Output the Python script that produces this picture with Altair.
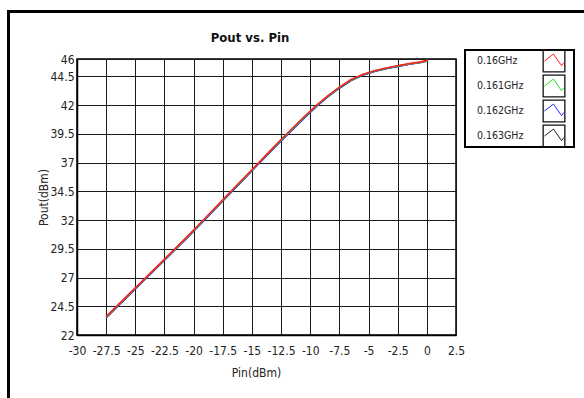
import altair as alt
import pandas as pd

FONT = "Liberation Sans Narrow, DejaVu Sans Condensed, sans-serif"

freqs = ["0.16GHz", "0.161GHz", "0.162GHz", "0.163GHz"]
colors = ["#ff2020", "#20e020", "#2a2aff", "#222222"]

pin = [-27.5, -26.5, -25.5, -24.5, -23.5, -22.5, -21.5, -20.5, -19.5, -18.5,
       -17.5, -16.5, -15.5, -14.5, -13.5, -12.5, -11.5, -10.5, -9.5, -8.5,
       -7.5, -6.5, -5.5, -4.5, -3.5, -2.5, -1.5, -0.5, 0.1]

pout_160 = [23.6, 24.6, 25.6, 26.6, 27.6, 28.6, 29.6, 30.6, 31.65, 32.7,
            33.75, 34.8, 35.85, 36.9, 37.95, 39.0, 40.0, 41.0, 41.95, 42.8,
            43.55, 44.22, 44.66, 44.98, 45.22, 45.42, 45.6, 45.75, 45.9]
pout_161 = [23.57, 24.57, 25.57, 26.57, 27.57, 28.57, 29.57, 30.57, 31.62, 32.67,
            33.72, 34.77, 35.82, 36.87, 37.92, 38.96, 39.96, 40.96, 41.91, 42.76,
            43.51, 44.18, 44.63, 44.95, 45.19, 45.39, 45.57, 45.72, 45.87]
pout_162 = [23.5, 24.5, 25.5, 26.5, 27.5, 28.5, 29.5, 30.5, 31.55, 32.6,
            33.65, 34.7, 35.75, 36.8, 37.85, 38.88, 39.88, 40.88, 41.84, 42.7,
            43.46, 44.13, 44.58, 44.91, 45.16, 45.36, 45.55, 45.7, 45.85]
pout_163 = [23.53, 24.53, 25.53, 26.53, 27.53, 28.53, 29.53, 30.53, 31.58, 32.63,
            33.68, 34.73, 35.78, 36.83, 37.88, 38.92, 39.92, 40.92, 41.88, 42.73,
            43.48, 44.15, 44.6, 44.93, 45.18, 45.38, 45.56, 45.71, 45.86]

x_ticks = [-30, -27.5, -25, -22.5, -20, -17.5, -15, -12.5, -10, -7.5, -5, -2.5, 0, 2.5]
y_ticks = [22, 24.5, 27, 29.5, 32, 34.5, 37, 39.5, 42, 44.5, 46]
chart_title = ["Pout vs. Pin"]

# drawing order: black first, red on top
series = [
    ("0.163GHz", pout_163),
    ("0.162GHz", pout_162),
    ("0.161GHz", pout_161),
    ("0.16GHz", pout_160),
]
rows = []
for k, (f, vals) in enumerate(series):
    for p, v in zip(pin, vals):
        rows.append({"freq": f, "k": k, "pin": p, "pout": v})
df = pd.DataFrame(rows)

W, H = 379, 276

xscale = alt.Scale(domain=[-30, 2.5], nice=False, zero=False)
yscale = alt.Scale(domain=[22, 46], nice=False, zero=False)

x_axis = alt.Axis(values=x_ticks, labelExpr="toString(datum.value)", title="Pin(dBm)",
                  grid=True, gridColor="#1a1a1a", gridWidth=1, gridOpacity=1,
                  ticks=False, labelPadding=10, labelFont=FONT, labelFontSize=12,
                  labelColor="#222", domainColor="#000", domainWidth=1.5,
                  titleFont=FONT, titleFontSize=12, titleFontWeight="normal",
                  titleColor="#222", titleX=179, titleY=37, titleBaseline="middle",
                  titleAlign="center", labelFlush=False, labelOverlap=False)
y_axis = alt.Axis(values=y_ticks, labelExpr="toString(datum.value)", title="Pout(dBm)",
                  grid=True, gridColor="#1a1a1a", gridWidth=1, gridOpacity=1,
                  ticks=False, labelPadding=3, labelFont=FONT, labelFontSize=12,
                  labelColor="#222", domainColor="#000", domainWidth=1.5,
                  titleFont=FONT, titleFontSize=12, titleFontWeight="normal",
                  titleColor="#222", titleX=-34, titleY=H / 2, titleAngle=270,
                  titleBaseline="middle", titleAlign="center", labelFlush=False,
                  labelOverlap=False)

lines = alt.Chart(df).mark_line(strokeWidth=1.6).encode(
    x=alt.X("pin:Q", scale=xscale, axis=x_axis),
    y=alt.Y("pout:Q", scale=yscale, axis=y_axis),
    color=alt.Color("freq:N", scale=alt.Scale(domain=freqs, range=colors), legend=None),
    detail="k:O",
)

# outer frame
frame_left = alt.Chart(df).mark_rule(color="#000", strokeWidth=3).encode(
    x=alt.value(-68.5), y=alt.value(-47.5), y2=alt.value(350))
frame_top = alt.Chart(df).mark_rule(color="#000", strokeWidth=3).encode(
    x=alt.value(-70), x2=alt.value(520), y=alt.value(-47.5))

# title
title_df = pd.DataFrame({"t": chart_title})
title_mark = alt.Chart(title_df).mark_text(
    font=FONT, fontSize=13, fontWeight="bold", color="#111",
    align="center", baseline="middle").encode(
    x=alt.value(173), y=alt.value(-21), text="t:N")

# legend
leg_df = pd.DataFrame({"freq": freqs, "row": [0, 1, 2, 3]})
leg_y = alt.Y("row:Q", scale=alt.Scale(domain=[0, 3], range=[2, 77]), axis=None)

leg_box = alt.Chart(leg_df).mark_rect(fill="white", stroke="#000", strokeWidth=2).encode(
    x=alt.value(388), x2=alt.value(497), y=alt.value(-9), y2=alt.value(88))
leg_text = alt.Chart(leg_df).mark_text(align="left", baseline="middle", font=FONT,
                                       fontSize=10.5, color="#222").encode(
    x=alt.value(400), y=leg_y, text="freq:N")
leg_sq = alt.Chart(leg_df).mark_point(shape="square", size=470, filled=False,
                                      stroke="#111", strokeWidth=1.3, opacity=1).encode(
    x=alt.value(477), y=leg_y)
leg_zz = alt.Chart(leg_df).mark_point(
    shape="M-0.88,0L-0.05,-0.64L0.7,0.43L0.92,0.13", size=470, filled=False,
    strokeWidth=1, opacity=1).encode(x=alt.value(477), y=leg_y, stroke=alt.Stroke(
        "freq:N", scale=alt.Scale(domain=freqs, range=colors), legend=None))

chart = alt.layer(frame_left, frame_top, title_mark, lines, leg_box, leg_text,
                  leg_sq, leg_zz).resolve_scale(
    x="independent", y="independent", color="independent", stroke="independent"
).properties(
    width=W, height=H,
    autosize=alt.AutoSizeParams(type="none"),
    padding={"left": 77, "top": 59, "right": 128, "bottom": 63},
).configure(background="white").configure_view(stroke="#000", strokeWidth=1.5)

chart.save("out.html", embed_options={"renderer": "svg", "actions": False})
